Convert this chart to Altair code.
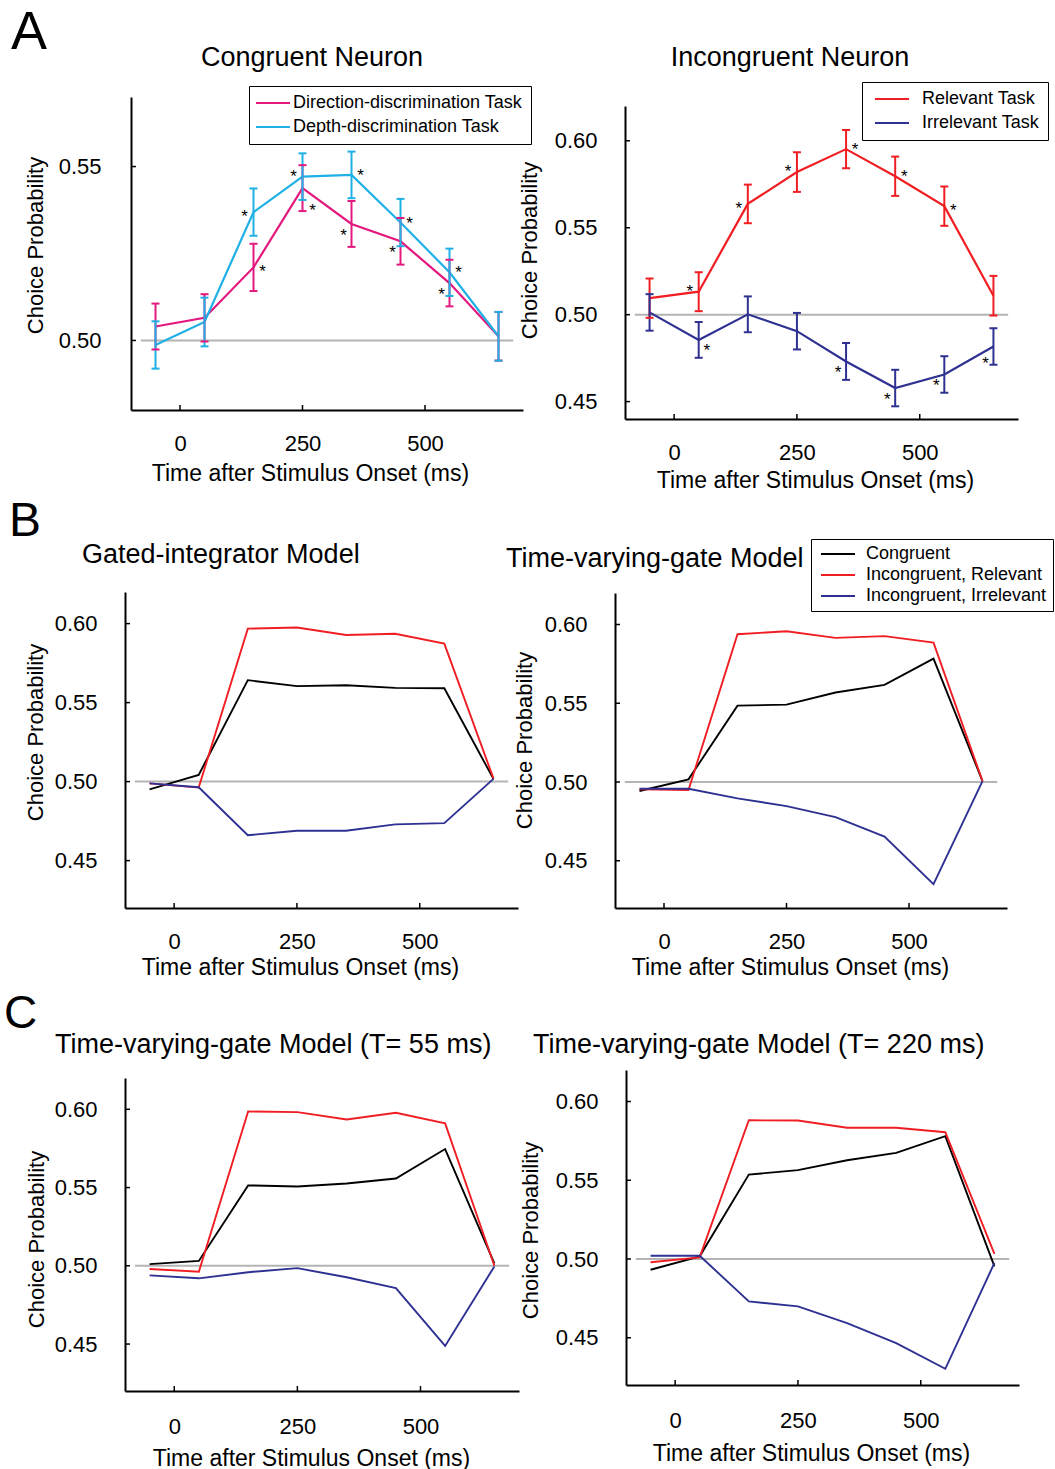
import altair as alt
import pandas as pd

# ---------------- shared axis values ----------------
T = [-50, 50, 150, 250, 350, 450, 550, 650]
X_DOMAIN = [-100, 700]
X_TICKS = [0, 250, 500]
REF_SPAN = [-80, 680]

# ---------------- A: recorded neurons ----------------
A1_NAMES = ["Direction-discrimination Task", "Depth-discrimination Task"]
A1_DIR = [0.5040, 0.5065, 0.5210, 0.5438, 0.5335, 0.5285, 0.5165, 0.5012]
A1_DIR_ERR = [0.0066, 0.0068, 0.0068, 0.0066, 0.0066, 0.0067, 0.0067, 0.0070]
A1_DEPTH = [0.4987, 0.5053, 0.5369, 0.5471, 0.5476, 0.5339, 0.5196, 0.5012]
A1_DEPTH_ERR = [0.0068, 0.0070, 0.0068, 0.0067, 0.0067, 0.0068, 0.0068, 0.0070]
A1_DIR_STAR = ["", "", "R", "RDD", "L", "L", "L", ""]
A1_DEPTH_STAR = ["", "", "LM", "LU", "RU", "RU", "RU", ""]
A1_YTICKS = [0.50, 0.55]

A2_NAMES = ["Relevant Task", "Irrelevant Task"]
A2_REL = [0.5095, 0.5132, 0.5637, 0.5820, 0.5952, 0.5796, 0.5624, 0.5109]
A2_REL_ERR = [0.0113, 0.0112, 0.0111, 0.0114, 0.0110, 0.0113, 0.0113, 0.0114]
A2_IRR = [0.5013, 0.4855, 0.5002, 0.4905, 0.4731, 0.4578, 0.4656, 0.4817]
A2_IRR_ERR = [0.0105, 0.0103, 0.0103, 0.0105, 0.0106, 0.0105, 0.0105, 0.0105]
A2_REL_STAR = ["", "LU", "LM", "LU", "RU", "RU", "R", ""]
A2_IRR_STAR = ["", "RD", "", "", "L", "L", "L", "LD"]
A2_YTICKS = [0.45, 0.50, 0.55, 0.60]

# ---------------- B / C: models ----------------
MODEL_NAMES = ["Congruent", "Incongruent, Relevant", "Incongruent, Irrelevant"]
MODEL_YTICKS = [0.45, 0.50, 0.55, 0.60]

B1_CONG = [0.4951, 0.5042, 0.5642, 0.5604, 0.5610, 0.5593, 0.5591, 0.5017]
B1_REL = [0.4989, 0.4962, 0.5968, 0.5975, 0.5928, 0.5936, 0.5873, 0.5020]
B1_IRR = [0.4989, 0.4964, 0.4661, 0.4689, 0.4689, 0.4729, 0.4737, 0.5017]

B2_CONG = [0.4943, 0.5017, 0.5485, 0.5491, 0.5568, 0.5617, 0.5783, 0.5006]
B2_REL = [0.4953, 0.4949, 0.5938, 0.5957, 0.5915, 0.5926, 0.5885, 0.5006]
B2_IRR = [0.4957, 0.4957, 0.4896, 0.4847, 0.4777, 0.4653, 0.4351, 0.5006]

C1_CONG = [0.5011, 0.5031, 0.5514, 0.5507, 0.5526, 0.5558, 0.5746, 0.5015]
C1_REL = [0.4980, 0.4962, 0.5986, 0.5982, 0.5935, 0.5978, 0.5910, 0.5000]
C1_IRR = [0.4939, 0.4920, 0.4959, 0.4985, 0.4927, 0.4857, 0.4488, 0.4996]

C2_CONG = [0.4932, 0.5017, 0.5536, 0.5564, 0.5627, 0.5674, 0.5780, 0.4953]
C2_REL = [0.4979, 0.5010, 0.5881, 0.5879, 0.5833, 0.5833, 0.5805, 0.5032]
C2_IRR = [0.5021, 0.5021, 0.4731, 0.4699, 0.4593, 0.4466, 0.4303, 0.4975]

# ---------------- styles ----------------
W, H = 1055, 1469
FONT = "Liberation Sans"
PINK = "#e3197e"
CYAN = "#1fb0e5"
RED = "#f01e23"
BLUE = "#2e3192"
BLACK = "#000000"
GRAY = "#b4b4b4"
STAR_GLYPH_DY = 9
STAR_OFFSETS = {
    "L": (-8, 8), "LM": (-9, 1), "LU": (-9, -4), "LD": (-8, 14),
    "R": (9, 1), "RU": (9, -3), "RD": (8, 7), "RDD": (10, 19),
}
LEGEND_LINE = "M-2.27,0H2.27"   # a long horizontal stroke in a compact legend row


def legend_box(x, y, row_pad, sym_off, lab_off, pad):
    return alt.Legend(
        orient="none", legendX=x, legendY=y, title=None, direction="vertical",
        strokeColor="black", fillColor="white", padding=pad,
        symbolType=LEGEND_LINE, symbolSize=225, symbolStrokeWidth=2.2,
        symbolOffset=sym_off, labelFontSize=18, labelColor="black",
        labelOffset=lab_off, labelLimit=600, rowPadding=row_pad,
    )


def build_panel(cfg):
    x0, x1 = cfg["xr"]
    yb, yt = cfg["yr"]
    names = cfg["names"]
    rows = []
    for k, name in enumerate(names):
        vals = cfg["vals"][k]
        errs = cfg["errs"][k] if cfg.get("errs") else None
        stars = cfg["stars"][k] if cfg.get("stars") else None
        for j, t in enumerate(T):
            r = {"t": t, "cp": vals[j], "series": name}
            if errs:
                r["lo"] = vals[j] - errs[j]
                r["hi"] = vals[j] + errs[j]
            r["star"] = stars[j] if stars else ""
            rows.append(r)
    df = pd.DataFrame(rows)

    xs = alt.Scale(domain=X_DOMAIN, range=[x0, x1], nice=False, zero=False)
    ys = alt.Scale(domain=cfg["ydom"], range=[yb, yt], nice=False, zero=False)
    xaxis = alt.Axis(
        orient="bottom", offset=yb - H, values=X_TICKS, ticks=False, tickSize=0,
        grid=False, domainColor="black", domainWidth=2, labelFontSize=22,
        labelColor="black", labelPadding=cfg["xlabpad"], labelBaseline="alphabetic",
        labelFlush=False, title="Time after Stimulus Onset (ms)", titleFontSize=23,
        titleFontWeight="normal", titleColor="black", titleX=cfg["xtitle"][0],
        titleY=cfg["xtitle"][1], titleBaseline="alphabetic", titleAlign="center",
    )
    yaxis = alt.Axis(
        orient="left", offset=-x0, values=cfg["yticks"], format=".2f", ticks=False,
        tickSize=0, grid=False, domainColor="black", domainWidth=2, labelFontSize=22,
        labelColor="black", labelPadding=cfg["ylabpad"], title="Choice Probability",
        titleFontSize=22, titleFontWeight="normal", titleColor="black",
        titleAngle=270, titleBaseline="alphabetic", titleAlign="center",
        titleX=cfg["ytitle"][0], titleY=cfg["ytitle"][1],
    )

    def X(f):
        return alt.X(f + ":Q", scale=xs, axis=xaxis)

    def Y(f):
        return alt.Y(f + ":Q", scale=ys, axis=yaxis)

    color = alt.Color("series:N", scale=alt.Scale(domain=names, range=cfg["colors"]),
                      legend=cfg.get("legend"))

    ref_df = pd.DataFrame({"t": [REF_SPAN[0]], "t2": [REF_SPAN[1]], "cp": [0.5]})
    layers = [
        alt.Chart(ref_df).mark_rule(color=GRAY, strokeWidth=2).encode(
            x=X("t"), x2=alt.X2("t2"), y=Y("cp")),
        alt.Chart(df).mark_line(strokeWidth=cfg["lw"]).encode(
            x=X("t"), y=Y("cp"), color=color),
    ]
    if cfg.get("errs"):
        layers += [
            alt.Chart(df).mark_rule(strokeWidth=2).encode(
                x=X("t"), y=Y("lo"), y2=alt.Y2("hi"), color=color),
            alt.Chart(df).mark_tick(orient="horizontal", size=8, thickness=2, opacity=1).encode(
                x=X("t"), y=Y("lo"), color=color),
            alt.Chart(df).mark_tick(orient="horizontal", size=8, thickness=2, opacity=1).encode(
                x=X("t"), y=Y("hi"), color=color),
        ]
    if cfg.get("stars"):
        for code, (dx, dy) in STAR_OFFSETS.items():
            if (df["star"] == code).any():
                layers.append(
                    alt.Chart(df).transform_filter(alt.datum.star == code).mark_text(
                        text="*", fontSize=17, dx=dx, dy=dy + STAR_GLYPH_DY,
                        baseline="alphabetic", align="center", color="black",
                    ).encode(x=X("t"), y=Y("cp"))
                )
    layers.append(
        alt.Chart(pd.DataFrame({"cp": cfg["yticks"]})).mark_rule(color="black", strokeWidth=1.5).encode(
            y=Y("cp"), x=alt.value(x0), x2=alt.value(x0 + 5)))
    layers.append(
        alt.Chart(pd.DataFrame({"t": X_TICKS})).mark_rule(color="black", strokeWidth=1.5).encode(
            x=X("t"), y=alt.value(yb), y2=alt.value(yb - 5)))
    return alt.layer(*layers)


configs = [
    dict(names=A1_NAMES, vals=[A1_DIR, A1_DEPTH], errs=[A1_DIR_ERR, A1_DEPTH_ERR],
         stars=[A1_DIR_STAR, A1_DEPTH_STAR], colors=[PINK, CYAN], xr=(131, 523),
         yr=(410, 97), ydom=[0.48, 0.57], yticks=A1_YTICKS, ytitle=(-89, 245),
         xtitle=(310, 70), xlabpad=40, ylabpad=30, lw=2.2,
         legend=legend_box(249, 86, 6, 7, 11, 8)),
    dict(names=A2_NAMES, vals=[A2_REL, A2_IRR], errs=[A2_REL_ERR, A2_IRR_ERR],
         stars=[A2_REL_STAR, A2_IRR_STAR], colors=[RED, BLUE], xr=(625, 1018),
         yr=(419, 106), ydom=[0.44, 0.62], yticks=A2_YTICKS, ytitle=(-89, 250),
         xtitle=(815, 68), xlabpad=40, ylabpad=28, lw=2.2,
         legend=legend_box(862, 82, 6, 13, 21, 8)),
    dict(names=MODEL_NAMES, vals=[B1_CONG, B1_REL, B1_IRR], colors=[BLACK, RED, BLUE],
         xr=(125, 518), yr=(908, 592), ydom=[0.42, 0.62], yticks=MODEL_YTICKS,
         ytitle=(-83, 732), xtitle=(300, 66), xlabpad=40, ylabpad=28, lw=1.9, legend=None),
    dict(names=MODEL_NAMES, vals=[B2_CONG, B2_REL, B2_IRR], colors=[BLACK, RED, BLUE],
         xr=(615, 1007), yr=(908, 593), ydom=[0.42, 0.62], yticks=MODEL_YTICKS,
         ytitle=(-84, 740), xtitle=(790, 66), xlabpad=40, ylabpad=28, lw=1.9,
         legend=legend_box(811, 539, 3, 12, 19, 6)),
    dict(names=MODEL_NAMES, vals=[C1_CONG, C1_REL, C1_IRR], colors=[BLACK, RED, BLUE],
         xr=(125, 519), yr=(1391, 1078), ydom=[0.42, 0.62], yticks=MODEL_YTICKS,
         ytitle=(-82, 1239), xtitle=(311, 74), xlabpad=42, ylabpad=28, lw=1.9, legend=None),
    dict(names=MODEL_NAMES, vals=[C2_CONG, C2_REL, C2_IRR], colors=[BLACK, RED, BLUE],
         xr=(626, 1019), yr=(1385, 1070), ydom=[0.42, 0.62], yticks=MODEL_YTICKS,
         ytitle=(-89, 1230), xtitle=(811, 75), xlabpad=42, ylabpad=28, lw=1.9, legend=None),
]

panels = [build_panel(c) for c in configs]

# ---------------- titles and panel letters ----------------
TITLES = [
    ("Congruent Neuron", 312, 66, "center", 27),
    ("Incongruent Neuron", 790, 66, "center", 27),
    ("Gated-integrator Model", 82, 563, "left", 27),
    ("Time-varying-gate Model", 506, 567, "left", 27),
    ("Time-varying-gate Model (T= 55 ms)", 55, 1053, "left", 27),
    ("Time-varying-gate Model (T= 220 ms)", 533, 1053, "left", 27),
    ("A", 11, 49, "left", 54),
    ("B", 9, 536, "left", 48),
    ("C", 4, 1028, "left", 46),
]
text_layers = []
for txt, tx, ty, al, fs in TITLES:
    text_layers.append(
        alt.Chart(pd.DataFrame({"label": [txt]})).mark_text(
            align=al, baseline="alphabetic", fontSize=fs, color="black"
        ).encode(text="label:N", x=alt.value(tx), y=alt.value(ty))
    )

chart = (
    alt.layer(*panels, *text_layers)
    .resolve_scale(x="independent", y="independent", color="independent")
    .properties(width=W, height=H, padding=0, background="white")
    .configure(font=FONT)
    .configure_view(strokeWidth=0)
)

chart.save("out.html", embed_options={"renderer": "svg", "actions": False})
